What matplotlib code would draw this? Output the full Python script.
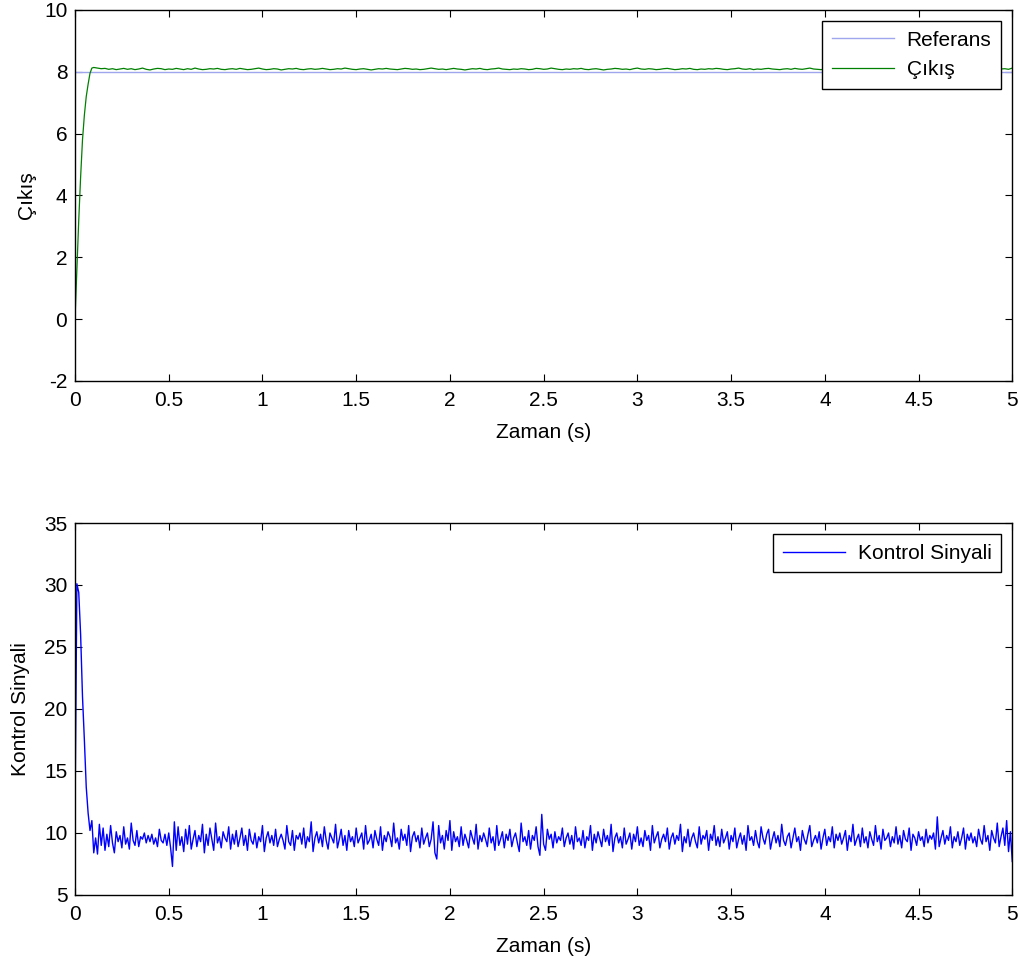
import numpy as np
import matplotlib
matplotlib.use('Agg')
import matplotlib.pyplot as plt

plt.rcParams['font.family'] = ['Liberation Sans', 'DejaVu Sans']
plt.rcParams['font.size'] = 15
plt.rcParams['axes.unicode_minus'] = False

# output (Çıkış): start-up at 0.01 s, then steady part at 0.02 s
out_start = [0.0, 1.6, 3.2, 4.6, 5.8, 6.6, 7.2, 7.6, 7.95, 8.12, 8.14]
out_steady = [
    8.12, 8.10, 8.11, 8.08, 8.10, 8.07, 8.09, 8.11, 8.08, 8.10,
    8.07, 8.09, 8.12, 8.08, 8.06, 8.09, 8.11, 8.10, 8.07, 8.09,
    8.08, 8.11, 8.09, 8.07, 8.10, 8.08, 8.12, 8.09, 8.07, 8.08,
    8.10, 8.09, 8.11, 8.08, 8.07, 8.09, 8.10, 8.08, 8.11, 8.09,
    8.07, 8.08, 8.10, 8.12, 8.09, 8.07, 8.08, 8.10, 8.09, 8.06,
    8.08, 8.10, 8.09, 8.11, 8.08, 8.07, 8.09, 8.10, 8.08, 8.09,
    8.11, 8.09, 8.07, 8.08, 8.10, 8.09, 8.12, 8.10, 8.08, 8.07,
    8.09, 8.10, 8.08, 8.06, 8.08, 8.10, 8.09, 8.11, 8.09, 8.08,
    8.07, 8.09, 8.11, 8.10, 8.08, 8.09, 8.07, 8.08, 8.10, 8.12,
    8.10, 8.08, 8.09, 8.07, 8.09, 8.11, 8.09, 8.08, 8.06, 8.08,
    8.10, 8.09, 8.11, 8.08, 8.07, 8.09, 8.10, 8.12, 8.09, 8.08,
    8.07, 8.09, 8.08, 8.10, 8.09, 8.07, 8.08, 8.11, 8.10, 8.08,
    8.09, 8.12, 8.10, 8.08, 8.07, 8.09, 8.08, 8.10, 8.09, 8.11,
    8.08, 8.07, 8.09, 8.10, 8.08, 8.06, 8.08, 8.09, 8.11, 8.10,
    8.08, 8.09, 8.07, 8.10, 8.12, 8.09, 8.08, 8.10, 8.09, 8.07,
    8.08, 8.10, 8.11, 8.09, 8.07, 8.08, 8.10, 8.09, 8.11, 8.08,
    8.07, 8.09, 8.08, 8.10, 8.09, 8.11, 8.10, 8.08, 8.07, 8.09,
    8.10, 8.12, 8.09, 8.08, 8.10, 8.07, 8.09, 8.08, 8.10, 8.11,
    8.09, 8.08, 8.07, 8.09, 8.10, 8.08, 8.11, 8.09, 8.08, 8.10,
    8.12, 8.09, 8.08, 8.07, 8.09, 8.10, 8.08, 8.09, 8.11, 8.10,
    8.08, 8.07, 8.09, 8.08, 8.10, 8.09, 8.07, 8.08, 8.10, 8.09,
    8.11, 8.09, 8.08, 8.10, 8.07, 8.09, 8.08, 8.10, 8.09, 8.12,
    8.10, 8.08, 8.09, 8.07, 8.08, 8.10, 8.09, 8.08, 8.11, 8.09,
    8.08, 8.10, 8.09, 8.07, 8.09, 8.08, 8.10, 8.09, 8.11, 8.08,
    8.07, 8.09, 8.10, 8.08, 8.12,
]
ref_value = 8.0

# control signal at 0.01 s
ctrl_start = [11.2, 30.1, 29.4, 26.0, 21.0, 17.5, 13.7, 11.6, 10.2, 11.0, 8.4]
ctrl_steady = [
    9.6, 8.3, 10.7, 9.0, 10.4, 8.6, 9.9, 8.9, 10.6, 9.2,
    8.4, 10.1, 9.3, 9.8, 8.8, 10.5, 9.1, 9.6, 8.7, 10.8,
    9.4, 9.0, 10.2, 8.9, 9.7, 9.5, 10.0, 9.2, 9.8, 9.3,
    9.9, 9.1, 9.6, 8.9, 10.3, 9.4, 9.2, 9.9, 9.0, 10.0,
    8.8, 7.3, 10.9, 8.6, 10.5, 9.0, 9.7, 8.5, 10.3, 9.1,
    10.6, 8.7, 9.5, 10.2, 8.9, 9.8, 9.3, 10.7, 8.4, 9.9,
    9.0, 10.4, 9.5, 8.6, 10.8, 9.2, 9.7, 8.8, 10.1, 9.6,
    9.3, 10.5, 8.7, 9.9, 9.1, 10.2, 8.9, 9.6, 10.4, 9.0,
    9.8, 8.6, 10.3, 9.4, 9.1, 10.0, 8.8, 9.7, 9.3, 10.6,
    8.5, 9.6, 10.1, 9.2, 9.8, 9.0, 10.3, 8.9, 9.5, 9.9,
    9.4, 8.7, 10.6, 9.3, 9.0, 10.2, 8.6, 9.8, 9.5, 10.0,
    9.1, 10.4, 8.8, 9.7, 9.3, 10.9, 8.5, 9.6, 10.1, 9.2,
    9.9, 8.9, 10.5, 9.4, 8.7, 10.0, 9.6, 9.2, 10.7, 8.8,
    9.5, 10.3, 9.0, 9.8, 8.6, 10.2, 9.3, 9.7, 8.9, 10.4,
    9.2, 9.6, 10.0, 8.7, 10.6, 9.1, 9.4, 9.9, 8.8, 10.2,
    9.5, 9.0, 10.5, 8.6, 9.8, 9.3, 10.1, 9.7, 8.9, 10.8,
    9.2, 9.6, 8.7, 10.3, 9.4, 9.9, 9.0, 10.6, 8.5, 9.7,
    10.1, 9.3, 9.8, 8.8, 10.4, 9.1, 9.6, 10.0, 8.9, 9.5,
    10.9, 8.4, 7.9, 10.6, 9.2, 9.8, 8.7, 10.2, 9.4, 11.0,
    8.6, 10.1, 9.3, 9.7, 8.9, 10.5, 9.0, 9.9, 9.4, 8.8,
    10.2, 9.6, 9.1, 10.7, 8.7, 9.8, 9.3, 10.0, 9.5, 8.9,
    10.4, 9.2, 9.7, 8.6, 10.6, 9.0, 9.5, 10.1, 8.8, 9.9,
    9.4, 10.3, 8.9, 9.6, 10.0, 9.2, 8.5, 10.8, 9.3, 9.7,
    9.0, 10.2, 8.7, 9.8, 9.4, 10.5, 8.9, 8.2, 11.5, 9.1,
    8.6, 10.3, 9.5, 9.9, 8.8, 10.1, 9.2, 9.7, 9.4, 10.4,
    8.9, 9.6, 10.0, 9.1, 9.8, 8.7, 10.5, 9.3, 9.6, 9.0,
    10.2, 8.8, 9.7, 9.4, 10.6, 8.6, 9.9, 9.2, 10.1, 9.5,
    8.9, 10.3, 9.3, 9.8, 9.0, 10.7, 8.5, 9.6, 10.0, 9.2,
    9.7, 8.8, 10.4, 9.1, 9.5, 10.0, 8.7, 9.9, 9.3, 10.5,
    9.0, 9.6, 8.9, 10.2, 9.4, 9.8, 8.6, 10.6, 9.2, 9.7,
    10.1, 8.8, 9.5, 9.9, 9.3, 10.4, 8.7, 9.6, 10.0, 9.1,
    9.8, 9.4, 10.7, 8.5, 9.7, 9.2, 10.3, 8.9, 9.6, 10.0,
    9.3, 8.8, 10.5, 9.1, 9.8, 9.5, 10.2, 8.6, 9.9, 9.4,
    10.6, 9.0, 9.7, 8.9, 10.3, 9.2, 9.6, 10.1, 8.7, 9.8,
    9.3, 10.4, 8.8, 9.5, 10.0, 9.1, 9.8, 8.6, 10.6, 9.4,
    9.7, 9.0, 10.2, 9.3, 8.8, 10.5, 9.6, 9.1, 9.9, 10.3,
    8.7, 9.5, 10.1, 9.2, 9.8, 8.9, 10.7, 9.4, 9.0, 9.7,
    10.0, 8.8, 9.6, 10.4, 9.3, 9.7, 8.6, 10.2, 9.5, 9.1,
    9.9, 10.6, 8.9, 9.4, 9.8, 9.2, 10.1, 8.7, 9.6, 10.3,
    9.0, 9.7, 9.3, 10.5, 8.8, 9.9, 9.4, 10.0, 9.1, 9.6,
    10.2, 8.6, 9.8, 9.3, 10.7, 9.0, 9.5, 9.9, 8.9, 10.4,
    9.2, 9.7, 8.8, 10.1, 9.5, 9.0, 10.6, 9.3, 9.8, 8.7,
    10.3, 9.4, 9.6, 10.0, 8.9, 9.7, 9.2, 10.5, 9.1, 9.8,
    8.8, 10.2, 9.5, 9.3, 10.4, 8.6, 9.9, 9.6, 9.0, 10.1,
    9.4, 9.7, 8.9, 10.3, 9.2, 9.8, 9.5, 10.0, 8.7, 11.3,
    8.9, 9.6, 10.2, 9.1, 9.8, 9.4, 10.5, 8.8, 9.7, 9.3,
    10.1, 9.0, 9.6, 10.4, 8.7, 9.9, 9.4, 10.0, 9.2, 9.7,
    8.9, 10.3, 9.5, 9.1, 10.6, 9.3, 9.8, 8.6, 10.2, 9.6,
    9.2, 10.8, 8.9, 9.7, 10.4, 9.0, 11.0, 8.5, 10.1, 7.7,
]

out_t = np.concatenate([np.arange(len(out_start)) * 0.01,
                        0.12 + np.arange(len(out_steady)) * 0.02])
out_y = np.array(out_start + out_steady)
ctrl_y = np.array(ctrl_start + ctrl_steady)
ctrl_t = np.arange(len(ctrl_y)) * 0.01

fig = plt.figure(figsize=(10.19, 9.57), dpi=100)
ax1 = fig.add_axes([0.0736, 0.6019, 0.9198, 0.3877])
ax2 = fig.add_axes([0.0736, 0.0648, 0.9198, 0.3887])

ax1.plot([0, 5], [ref_value, ref_value], color='#9fa6ee', lw=1.0, label='Referans')
ax1.plot(out_t, out_y, color='#008000', lw=0.9, label='Çıkış')
ax1.set_xlim(0, 5)
ax1.set_ylim(-2, 10)
ax1.set_yticks(np.arange(-2, 11, 2))
ax1.set_xlabel('Zaman (s)', labelpad=9)
ax1.set_ylabel('Çıkış')
ax1.yaxis.set_label_coords(-0.042, 0.5)

ax2.plot(ctrl_t, ctrl_y, color='#0000ff', lw=1.0, label='Kontrol Sinyali')
ax2.set_xlim(0, 5)
ax2.set_ylim(5, 35)
ax2.set_yticks(np.arange(5, 36, 5))
ax2.set_xlabel('Zaman (s)', labelpad=9)
ax2.set_ylabel('Kontrol Sinyali')
ax2.yaxis.set_label_coords(-0.048, 0.5)

for ax in (ax1, ax2):
    ax.set_xticks(np.arange(0, 5.01, 0.5))
    ax.set_xticklabels(['0', '0.5', '1', '1.5', '2', '2.5', '3', '3.5', '4', '4.5', '5'])
    ax.tick_params(direction='in', top=True, right=True, length=5, width=0.8,
                   labelsize=15, pad=5.5)
    ax.tick_params(axis='x', pad=7.5)
    for sp in ax.spines.values():
        sp.set_linewidth(1.0)
    leg = ax.legend(loc='upper right', fancybox=False, framealpha=1,
                    edgecolor='black', handlelength=3.0, fontsize=15,
                    borderaxespad=0.55, labelspacing=0.5, handletextpad=0.6,
                    borderpad=0.45)
    leg.get_frame().set_linewidth(1.0)

fig.savefig('out.png', dpi=100)
